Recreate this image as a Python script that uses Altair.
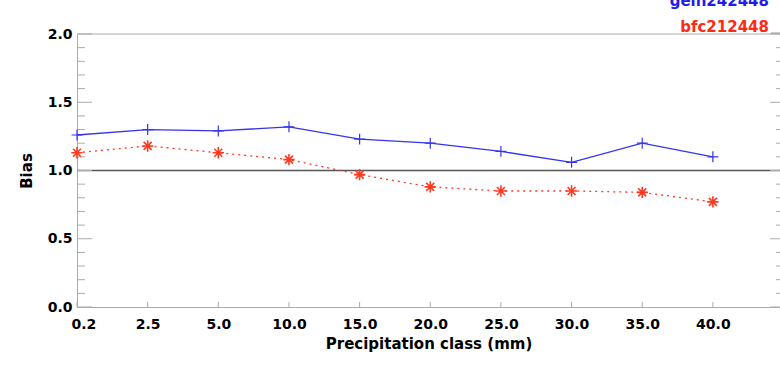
import altair as alt
import pandas as pd

# Precipitation classes (mm) and bias per class for the two runs
classes = ["0.2", "2.5", "5.0", "10.0", "15.0", "20.0", "25.0", "30.0", "35.0", "40.0"]
gein = [1.26, 1.30, 1.29, 1.32, 1.23, 1.20, 1.14, 1.06, 1.20, 1.10]
bfc = [1.13, 1.18, 1.13, 1.08, 0.97, 0.88, 0.85, 0.85, 0.84, 0.77]

series_names = ["gein242448", "bfc212448"]
reference_bias = [1.0]
major_y = [0.0, 0.5, 1.0, 1.5, 2.0]
minor_y = [round(v * 0.1, 1) for v in range(21) if v % 5 != 0]

W, H = 703, 273
BLUE = "#3434ee"
RED = "#ff3a22"
FRAME = "#ababab"
FONT = "DejaVu Sans"

gein_df = pd.DataFrame({"idx": list(range(len(classes))), "bias": gein})
bfc_df = pd.DataFrame({"idx": list(range(len(classes))), "bias": bfc})

x_scale = alt.Scale(domain=[0, 9.95], nice=False, zero=False)
y_scale = alt.Scale(domain=[0, 2], nice=False, zero=False)

label_expr = "[" + ",".join("'%s'" % c for c in classes) + "][datum.value]"

x_enc = alt.X(
    "idx:Q", scale=x_scale,
    axis=alt.Axis(values=list(range(len(classes))), labelExpr=label_expr,
                  title="Precipitation class (mm)", ticks=False, grid=False,
                  domainColor=FRAME, domainWidth=1, labelPadding=10,
                  labelFlushOffset=6,
                  labelFont=FONT, labelFontWeight="bold", labelFontSize=14,
                  labelColor="black", titleFont=FONT, titleFontWeight="bold",
                  titleFontSize=15, titleColor="black", titlePadding=5),
)
y_enc = alt.Y(
    "bias:Q", scale=y_scale,
    axis=alt.Axis(values=major_y, format=".1f", title="Bias", ticks=False,
                  grid=False, domainColor=FRAME, domainWidth=1, labelPadding=5,
                  labelFont=FONT, labelFontWeight="bold", labelFontSize=14,
                  labelColor="black", titleFont=FONT, titleFontWeight="bold",
                  titleFontSize=15, titleColor="black", titlePadding=13),
)

plus_path = "M-1,0L1,0M0,-1L0,1"
star_path = "M-1,0L1,0M0,-1L0,1M-0.7,-0.7L0.7,0.7M-0.7,0.7L0.7,-0.7"

gein_line = alt.Chart(gein_df).mark_line(color=BLUE, strokeWidth=1.3).encode(x=x_enc, y=y_enc)
gein_pts = alt.Chart(gein_df).mark_point(shape=plus_path, size=120, filled=False,
                                         color=BLUE, strokeWidth=1.2, opacity=1).encode(
    x=alt.X("idx:Q", scale=x_scale), y=alt.Y("bias:Q", scale=y_scale))
bfc_line = alt.Chart(bfc_df).mark_line(color=RED, strokeWidth=1.3, strokeDash=[2, 4]).encode(
    x=alt.X("idx:Q", scale=x_scale), y=alt.Y("bias:Q", scale=y_scale))
bfc_pts = alt.Chart(bfc_df).mark_point(shape=star_path, size=130, filled=False,
                                       color=RED, strokeWidth=1.6, opacity=1).encode(
    x=alt.X("idx:Q", scale=x_scale), y=alt.Y("bias:Q", scale=y_scale))

ref = alt.Chart(pd.DataFrame({"bias": reference_bias})).mark_rule(
    color="#555555", strokeWidth=1.5
).encode(y=alt.Y("bias:Q", scale=y_scale), x=alt.value(0), x2=alt.value(W))

# frame top edge
top_edge = alt.Chart(pd.DataFrame({"bias": [2.0]})).mark_rule(color=FRAME, strokeWidth=1).encode(
    y=alt.Y("bias:Q", scale=y_scale), x=alt.value(0), x2=alt.value(W))

# inward ticks on the left and right edges
yt_major = pd.DataFrame({"bias": major_y})
yt_minor = pd.DataFrame({"bias": minor_y})
left_major = alt.Chart(yt_major).mark_rule(color=FRAME).encode(
    y=alt.Y("bias:Q", scale=y_scale), x=alt.value(0), x2=alt.value(15))
left_minor = alt.Chart(yt_minor).mark_rule(color=FRAME).encode(
    y=alt.Y("bias:Q", scale=y_scale), x=alt.value(0), x2=alt.value(8))
right_major = alt.Chart(yt_major).mark_rule(color=FRAME).encode(
    y=alt.Y("bias:Q", scale=y_scale), x=alt.value(W - 10), x2=alt.value(W))
right_minor = alt.Chart(yt_minor).mark_rule(color=FRAME).encode(
    y=alt.Y("bias:Q", scale=y_scale), x=alt.value(W - 4), x2=alt.value(W))

# inward ticks on the bottom edge at each class
bottom_ticks = alt.Chart(pd.DataFrame({"idx": list(range(len(classes)))})).mark_rule(color=FRAME).encode(
    x=alt.X("idx:Q", scale=x_scale), y=alt.value(H), y2=alt.value(H - 5))

# legend in the top-right corner
legend_gein = alt.Chart(pd.DataFrame({"t": [series_names[0]]})).mark_text(
    align="right", baseline="alphabetic", font=FONT, fontWeight="bold", fontSize=15, color="#1e1ee8"
).encode(text="t:N", x=alt.value(692), y=alt.value(-28))
legend_bfc = alt.Chart(pd.DataFrame({"t": [series_names[1]]})).mark_text(
    align="right", baseline="alphabetic", font=FONT, fontWeight="bold", fontSize=15, color="#ff2a14"
).encode(text="t:N", x=alt.value(692), y=alt.value(-2))
legend_dash = alt.Chart(pd.DataFrame({"t": [series_names[1]]})).mark_rule(color="#999999").encode(
    x=alt.value(694), x2=alt.value(W), y=alt.value(-1))

chart = alt.layer(
    ref, top_edge, left_major, left_minor, right_major, right_minor, bottom_ticks,
    gein_line, gein_pts, bfc_line, bfc_pts, legend_gein, legend_bfc, legend_dash,
).properties(
    width=W, height=H,
    autosize=alt.AutoSizeParams(type="none"),
    padding={"left": 77, "top": 34, "right": 0, "bottom": 67},
    background="white",
).configure_view(stroke=None)

chart.save("out.html", embed_options={"renderer": "svg", "actions": False})
